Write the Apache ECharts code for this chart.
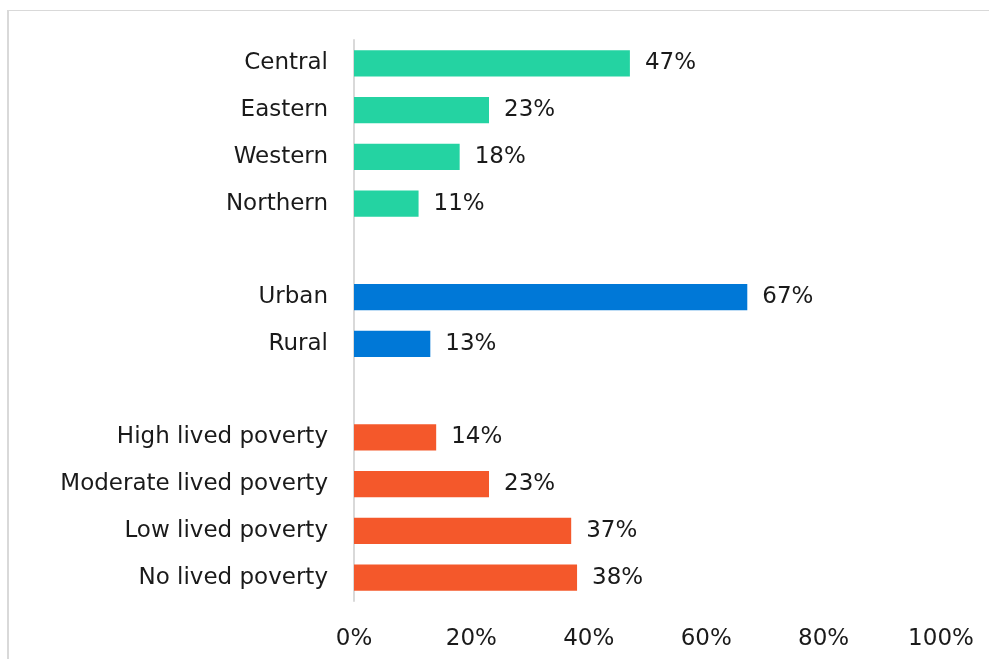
<!DOCTYPE html>
<html>
<head>
<meta charset="utf-8">
<script src="https://cdn.jsdelivr.net/npm/echarts@6/dist/echarts.min.js"></script>
<style>
  html, body { margin: 0; padding: 0; background: #fff; }
  #frame {
    position: absolute; left: 7px; top: 10px; width: 1000px; height: 700px;
    border-top: 1px solid #d9d9d9; border-left: 2px solid #d9d9d9;
  }
  #chart { position: absolute; left: 0; top: 0; width: 989px; height: 659px; }
</style>
</head>
<body>
<div id="frame"></div>
<div id="chart"></div>
<script>
// blank entries are the gaps between the groups
const categories = ['Central', 'Eastern', 'Western', 'Northern', '',
  'Urban', 'Rural', '',
  'High lived poverty', 'Moderate lived poverty', 'Low lived poverty', 'No lived poverty'];
const values = [47, 23, 18, 11, null, 67, 13, null, 14, 23, 37, 38];
const groups = ['region', 'region', 'region', 'region', null,
  'area', 'area', null,
  'poverty', 'poverty', 'poverty', 'poverty'];
const groupColors = { region: '#24d3a2', area: '#0078d7', poverty: '#f4582b' };
const xTicks = [0, 20, 40, 60, 80, 100];

const font = 'DejaVu Sans';

const option = {
  animation: false,
  grid: { left: 354, right: 48, top: 40, bottom: 58 },
  xAxis: {
    type: 'value',
    min: xTicks[0],
    max: xTicks[xTicks.length - 1],
    interval: 20,
    axisLine: { show: false },
    axisTick: { show: false },
    splitLine: { show: false },
    axisLabel: {
      formatter: '{value}%',
      color: '#1a1a1a',
      fontFamily: font,
      fontSize: 23,
      margin: 27
    }
  },
  yAxis: {
    type: 'category',
    inverse: true,
    data: categories,
    axisLine: { show: true, lineStyle: { color: '#d9d9d9', width: 2 } },
    axisTick: { show: false },
    axisLabel: {
      color: '#1a1a1a',
      fontFamily: font,
      fontSize: 23,
      margin: 26,
      padding: [4, 0, 0, 0]
    }
  },
  series: [{
    type: 'bar',
    barWidth: '56%',
    data: values.map((v, i) => v === null ? null : {
      value: v,
      itemStyle: { color: groupColors[groups[i]] }
    }),
    label: {
      show: true,
      position: 'right',
      distance: 15,
      formatter: '{c}%',
      color: '#1a1a1a',
      fontFamily: font,
      fontSize: 23,
      padding: [4, 0, 0, 0]
    }
  }]
};

const myChart = echarts.init(document.getElementById('chart'));
myChart.setOption(option);
</script>
</body>
</html>
